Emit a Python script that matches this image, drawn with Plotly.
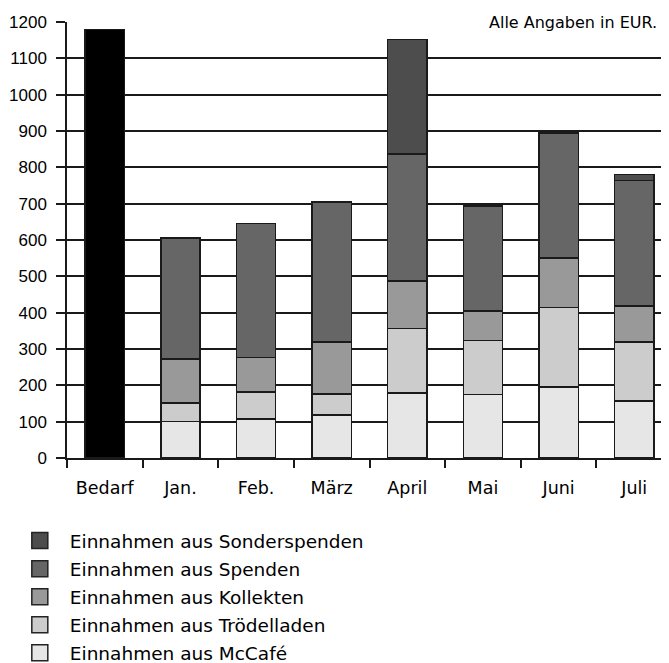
import plotly.graph_objects as go

categories = ["Bedarf", "Jan.", "Feb.", "März", "April", "Mai", "Juni", "Juli"]
bedarf = [1180, None, None, None, None, None, None, None]
mccafe = [None, 100, 108, 118, 179, 175, 195, 157]
troedelladen = [None, 52, 73, 58, 178, 149, 219, 162]
kollekten = [None, 120, 96, 143, 130, 81, 136, 99]
spenden = [None, 334, 369, 385, 350, 287, 344, 346]
sonderspenden = [None, None, None, None, 315, 4, 3, 16]

series_names = [
    "Einnahmen aus McCafé",
    "Einnahmen aus Trödelladen",
    "Einnahmen aus Kollekten",
    "Einnahmen aus Spenden",
    "Einnahmen aus Sonderspenden",
]
series_values = [mccafe, troedelladen, kollekten, spenden, sonderspenden]
series_colors = ["#e6e6e6", "#cccccc", "#999999", "#666666", "#4d4d4d"]

edge = "#1a1a1a"
fig = go.Figure()
fig.add_bar(x=categories, y=bedarf, name="Bedarf", showlegend=False,
            marker=dict(color="#000000", line=dict(color=edge, width=1.5)))
for name, vals, col in zip(series_names, series_values, series_colors):
    fig.add_bar(x=categories, y=vals, name=name, showlegend=False,
                marker=dict(color=col, line=dict(color=edge, width=1.5)))

# legend entries (top to bottom)
for name, col in reversed(list(zip(series_names, series_colors))):
    fig.add_scatter(x=[None], y=[None], mode="markers", name=name, legendgroup=name,
                    marker=dict(symbol="square", size=16, color=col,
                                line=dict(color="#222222", width=1.5)))

fig.update_layout(
    width=661, height=655,
    margin=dict(l=59, r=0, t=14, b=205, autoexpand=False),
    paper_bgcolor="white", plot_bgcolor="white",
    barmode="stack", bargap=0.48,
    showlegend=True,
    legend=dict(x=-0.095, xanchor="left", y=-0.147, yanchor="top",
                font=dict(family="DejaVu Sans", size=18.5, color="black"),
                traceorder="grouped", tracegroupgap=1, bgcolor="rgba(0,0,0,0)",
                itemsizing="trace", itemwidth=50),
    xaxis=dict(type="category", range=[-0.5, 7.46], tickson="boundaries",
               ticks="outside", ticklen=8, tickwidth=1.5, tickcolor=edge,
               showline=True, linecolor=edge, linewidth=1.5, showgrid=False,
               ticklabelstandoff=13,
               tickfont=dict(family="DejaVu Sans", size=17.5, color="black")),
    yaxis=dict(range=[0, 1200], dtick=100, ticks="outside", ticklen=9,
               tickwidth=1.5, tickcolor=edge, showline=True, linecolor=edge,
               linewidth=1.5, showgrid=True, gridcolor=edge, gridwidth=1.5,
               zeroline=False, ticklabelstandoff=6,
               tickfont=dict(family="Liberation Sans", size=17, color="black")),
    annotations=[dict(text="Alle Angaben in EUR.", xref="paper", yref="paper",
                      x=0.84, y=1, xanchor="center", yanchor="middle",
                      showarrow=False, bgcolor="white", borderpad=7,
                      font=dict(family="DejaVu Sans", size=16, color="black"))],
)

fig.write_html("out.html")
